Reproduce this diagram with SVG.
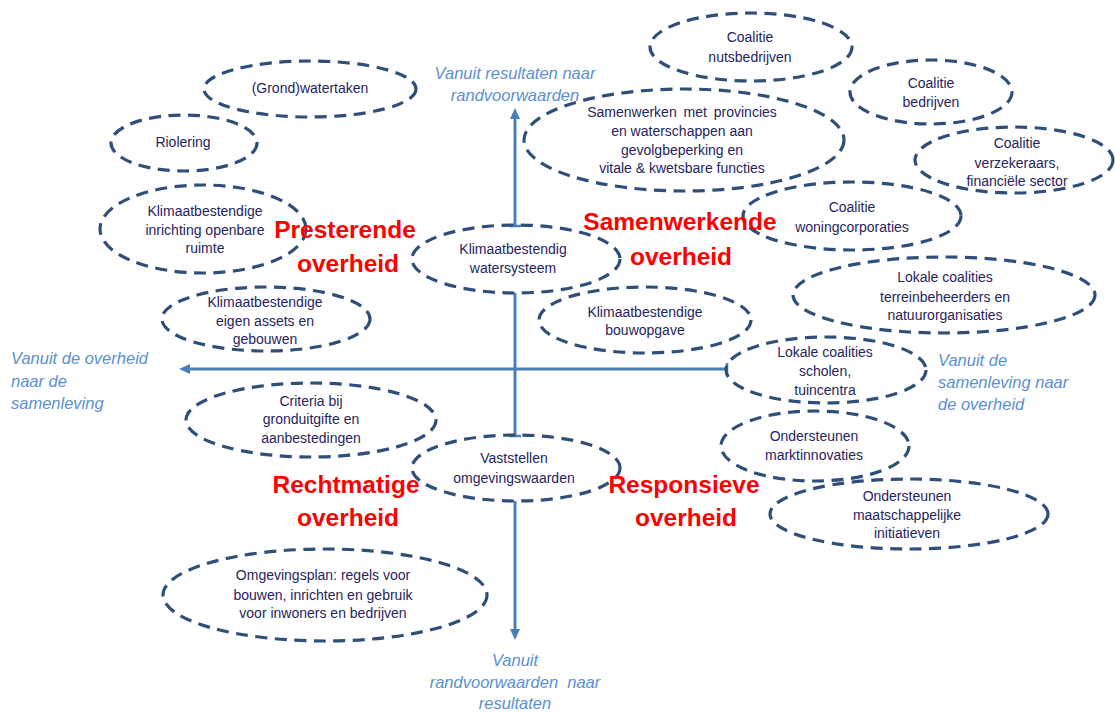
<svg xmlns="http://www.w3.org/2000/svg" width="1115" height="713" viewBox="0 0 1115 713">
<style>
.n ellipse{fill:none;stroke:#2f4f79;stroke-width:3.2;stroke-dasharray:12 7.5}
.n text{font-family:"Liberation Sans",Arial,sans-serif;font-size:14px;fill:#26245e;text-anchor:middle}
.ax{stroke:#4a7ebb;stroke-width:3;fill:none}
.tk{stroke:#4a7ebb;stroke-width:2.5;fill:none}
.red{font-family:"Liberation Sans",Arial,sans-serif;font-size:24.5px;font-weight:bold;fill:#ff0000;text-anchor:middle}
.blu{font-family:"Liberation Sans",Arial,sans-serif;font-size:16.5px;font-style:italic;fill:#5b8fd2}
.c{text-anchor:middle}
</style>
<defs>
<marker id="ah" markerUnits="userSpaceOnUse" markerWidth="12" markerHeight="12" viewBox="0 0 12 12" refX="2" refY="6" orient="auto">
<path d="M0,1 L11,6 L0,11 Z" fill="#4a7ebb"/>
</marker>
</defs>
<rect width="1115" height="713" fill="#ffffff"/>
<g id="connectors">
<line class="ax" x1="515" y1="226" x2="515" y2="117" marker-end="url(#ah)"/>
<line class="ax" x1="515" y1="293" x2="515" y2="436"/>
<line class="ax" x1="515" y1="501" x2="515" y2="631" marker-end="url(#ah)"/>
<line class="ax" x1="727" y1="369" x2="188" y2="369" marker-end="url(#ah)"/>
<line class="tk" x1="509" y1="226" x2="521" y2="226"/>
<line class="tk" x1="509" y1="436" x2="521" y2="436"/>
<line class="tk" x1="727" y1="363" x2="727" y2="375"/>
</g>
<g id="n-grond" class="n"><ellipse cx="310" cy="89" rx="106" ry="28"/><text x="310" y="93">(Grond)watertaken</text></g>
<g id="n-riolering" class="n"><ellipse cx="184" cy="143" rx="73" ry="28"/><text x="183" y="147">Riolering</text></g>
<g id="n-inrichting" class="n"><ellipse cx="203" cy="229" rx="103" ry="44"/><text x="205" y="216">Klimaatbestendige</text><text x="205" y="235">inrichting openbare</text><text x="205" y="253">ruimte</text></g>
<g id="n-assets" class="n"><ellipse cx="266" cy="319" rx="104" ry="32"/><text x="265" y="307">Klimaatbestendige</text><text x="265" y="326">eigen assets en</text><text x="265" y="344">gebouwen</text></g>
<g id="n-watersysteem" class="n"><ellipse cx="516" cy="259" rx="104" ry="34"/><text x="513" y="254">Klimaatbestendig</text><text x="513" y="273">watersysteem</text></g>
<g id="n-nuts" class="n"><ellipse cx="751" cy="47" rx="101" ry="34"/><text x="750" y="42">Coalitie</text><text x="750" y="62">nutsbedrijven</text></g>
<g id="n-samenwerken" class="n"><ellipse cx="684" cy="140" rx="160" ry="51"/><text x="682" y="117" word-spacing="3">Samenwerken met provincies</text><text x="682" y="136">en waterschappen aan</text><text x="682" y="155">gevolgbeperking en</text><text x="682" y="173">vitale &amp; kwetsbare functies</text></g>
<g id="n-bedrijven" class="n"><ellipse cx="931" cy="92" rx="81" ry="32"/><text x="931" y="88">Coalitie</text><text x="931" y="107">bedrijven</text></g>
<g id="n-verzekeraars" class="n"><ellipse cx="1014" cy="160" rx="99" ry="33"/><text x="1017" y="148">Coalitie</text><text x="1017" y="168">verzekeraars,</text><text x="1017" y="186">financiële sector</text></g>
<g id="n-woning" class="n"><ellipse cx="852" cy="216" rx="109" ry="34"/><text x="852" y="212">Coalitie</text><text x="852" y="232">woningcorporaties</text></g>
<g id="n-terrein" class="n"><ellipse cx="944" cy="295" rx="151" ry="38"/><text x="945" y="282">Lokale coalities</text><text x="945" y="302">terreinbeheerders en</text><text x="945" y="320">natuurorganisaties</text></g>
<g id="n-bouwopgave" class="n"><ellipse cx="645" cy="320" rx="106" ry="33"/><text x="645" y="317">Klimaatbestendige</text><text x="645" y="335">bouwopgave</text></g>
<g id="n-scholen" class="n"><ellipse cx="826" cy="370" rx="100" ry="33"/><text x="825" y="357">Lokale coalities</text><text x="825" y="376">scholen,</text><text x="825" y="395">tuincentra</text></g>
<g id="n-markt" class="n"><ellipse cx="815" cy="446" rx="94" ry="35"/><text x="814" y="441">Ondersteunen</text><text x="814" y="460">marktinnovaties</text></g>
<g id="n-maatschappelijk" class="n"><ellipse cx="909" cy="514" rx="139" ry="35"/><text x="907" y="501">Ondersteunen</text><text x="907" y="520">maatschappelijke</text><text x="907" y="538">initiatieven</text></g>
<g id="n-criteria" class="n"><ellipse cx="311" cy="420" rx="125" ry="37"/><text x="311" y="406">Criteria bij</text><text x="311" y="424">gronduitgifte en</text><text x="311" y="443">aanbestedingen</text></g>
<g id="n-vaststellen" class="n"><ellipse cx="516" cy="468" rx="104" ry="33"/><text x="514" y="463">Vaststellen</text><text x="514" y="483">omgevingswaarden</text></g>
<g id="n-omgevingsplan" class="n"><ellipse cx="325" cy="595" rx="162" ry="46"/><text x="323" y="580">Omgevingsplan: regels voor</text><text x="323" y="600">bouwen, inrichten en gebruik</text><text x="323" y="618">voor inwoners en bedrijven</text></g>
<g id="quadrant-labels">
<text class="red" x="345" y="238">Presterende</text><text class="red" x="348" y="272">overheid</text>
<text class="red" x="680" y="230">Samenwerkende</text><text class="red" x="681" y="265">overheid</text>
<text class="red" x="346" y="493">Rechtmatige</text><text class="red" x="348" y="526">overheid</text>
<text class="red" x="684" y="493">Responsieve</text><text class="red" x="686" y="526">overheid</text>
</g>
<g id="axis-labels">
<text class="blu c" x="515" y="79">Vanuit resultaten naar</text><text class="blu c" x="515" y="101">randvoorwaarden</text>
<text class="blu" x="11" y="364">Vanuit de overheid</text><text class="blu" x="11" y="387">naar de</text><text class="blu" x="11" y="409">samenleving</text>
<text class="blu" x="938" y="366">Vanuit de</text><text class="blu" x="938" y="388">samenleving naar</text><text class="blu" x="938" y="410">de overheid</text>
<text class="blu c" x="515" y="666">Vanuit</text><text class="blu c" x="515" y="688" xml:space="preserve">randvoorwaarden  naar</text><text class="blu c" x="515" y="709">resultaten</text>
</g>
</svg>
